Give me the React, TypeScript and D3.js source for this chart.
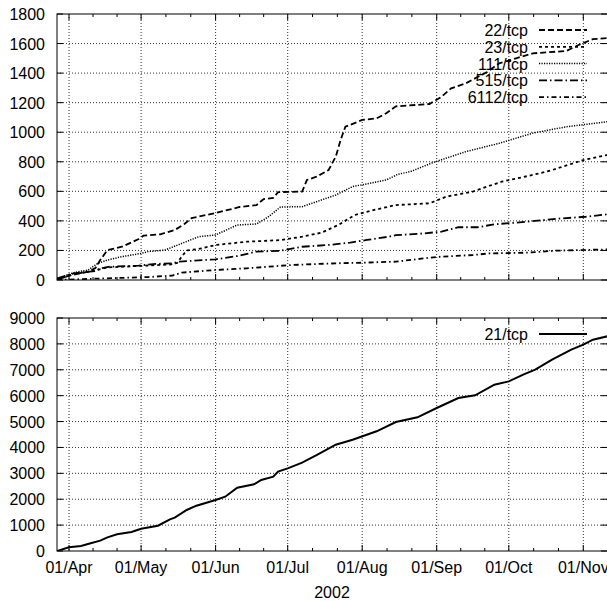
import React from 'react'
import * as d3 from 'd3'

// dates are 2002, written as MM-DD
const parseDay = d3.utcParse('%Y-%m-%d')
const day = (s: string) => parseDay('2002-' + s) as Date

// ---- upper panel ----
const tcp22Dates = ['03-27', '04-01', '04-09', '04-12', '04-14', '04-17', '04-23', '04-30', '05-02', '05-09', '05-15', '05-19', '05-22', '06-01', '06-11', '06-18', '06-21', '06-25', '06-27', '07-07', '07-09', '07-13', '07-18', '07-21', '07-23', '07-25', '08-01', '08-07', '08-11', '08-15', '08-29', '09-03', '09-07', '09-13', '09-22', '09-27', '10-04', '10-11', '10-25', '10-30', '11-05', '11-11']
const tcp22Values = [0, 30, 56, 81, 135, 203, 225, 277, 300, 309, 338, 379, 419, 453, 494, 507, 548, 555, 595, 598, 677, 699, 744, 834, 947, 1037, 1083, 1094, 1128, 1175, 1191, 1240, 1297, 1330, 1408, 1466, 1500, 1534, 1550, 1590, 1630, 1637]

const tcp23Dates = ['03-27', '04-03', '04-12', '04-17', '04-30', '05-13', '05-16', '05-18', '05-20', '05-25', '06-01', '06-14', '06-28', '07-07', '07-15', '07-22', '07-29', '08-06', '08-15', '08-29', '09-05', '09-16', '09-22', '09-28', '10-11', '10-19', '11-01', '11-11']
const tcp23Values = [0, 40, 65, 85, 95, 105, 115, 160, 200, 210, 237, 259, 270, 293, 320, 372, 440, 474, 507, 519, 564, 598, 632, 665, 711, 744, 812, 846]

const tcp111Dates = ['03-27', '04-03', '04-09', '04-13', '04-17', '04-23', '05-01', '05-04', '05-11', '05-18', '05-25', '06-01', '06-10', '06-18', '06-23', '06-28', '07-07', '07-13', '07-21', '07-28', '08-04', '08-11', '08-16', '08-21', '08-30', '09-13', '09-27', '10-11', '10-25', '11-11']
const tcp111Values = [10, 50, 68, 113, 135, 158, 180, 192, 203, 248, 293, 305, 372, 379, 428, 494, 496, 530, 575, 632, 654, 677, 716, 733, 792, 868, 925, 994, 1037, 1071]

const tcp515Dates = ['03-27', '04-03', '04-12', '04-14', '04-18', '04-30', '05-06', '05-14', '05-17', '05-20', '06-01', '06-10', '06-18', '06-28', '07-07', '07-18', '07-27', '08-03', '08-12', '08-15', '08-27', '09-03', '09-10', '09-18', '09-25', '10-04', '10-16', '10-23', '11-02', '11-11']
const tcp515Values = [10, 45, 61, 79, 90, 97, 108, 113, 125, 128, 140, 162, 192, 198, 225, 237, 253, 271, 293, 303, 316, 327, 357, 357, 377, 388, 406, 417, 428, 444]

const tcp6112Dates = ['03-27', '04-14', '05-04', '05-14', '05-18', '06-01', '06-14', '06-23', '07-02', '07-13', '07-21', '08-01', '08-15', '08-27', '09-03', '09-16', '09-23', '10-09', '10-20', '11-11']
const tcp6112Values = [0, 10, 20, 30, 50, 68, 79, 90, 101, 108, 113, 117, 124, 147, 158, 169, 180, 185, 198, 207]

// ---- lower panel ----
const tcp21Dates = ['03-27', '04-01', '04-06', '04-10', '04-14', '04-17', '04-21', '04-27', '05-01', '05-08', '05-13', '05-15', '05-20', '05-24', '06-01', '06-05', '06-10', '06-17', '06-20', '06-25', '06-27', '07-01', '07-07', '07-13', '07-21', '07-28', '08-07', '08-15', '08-24', '09-01', '09-10', '09-17', '09-25', '10-01', '10-07', '10-12', '10-19', '10-27', '11-01', '11-05', '11-11']
const tcp21Values = [0, 142, 193, 296, 399, 528, 644, 734, 862, 978, 1224, 1288, 1584, 1751, 1970, 2098, 2446, 2575, 2743, 2871, 3064, 3193, 3412, 3700, 4107, 4300, 4623, 4983, 5165, 5524, 5910, 6013, 6425, 6553, 6811, 7004, 7390, 7776, 7970, 8163, 8293]

const topTicks = [0, 200, 400, 600, 800, 1000, 1200, 1400, 1600, 1800]
const bottomTicks = [0, 1000, 2000, 3000, 4000, 5000, 6000, 7000, 8000, 9000]
const monthLabels = ['01/Apr', '01/May', '01/Jun', '01/Jul', '01/Aug', '01/Sep', '01/Oct', '01/Nov']
const monthStarts = ['04-01', '05-01', '06-01', '07-01', '08-01', '09-01', '10-01', '11-01']

const topSeries = [
  { name: '22/tcp', dates: tcp22Dates, values: tcp22Values, dash: '6,3', width: 1.8 },
  { name: '23/tcp', dates: tcp23Dates, values: tcp23Values, dash: '3,3', width: 1.8 },
  { name: '111/tcp', dates: tcp111Dates, values: tcp111Values, dash: '1.2,1.3', width: 1.5 },
  { name: '515/tcp', dates: tcp515Dates, values: tcp515Values, dash: '8,3,1.5,3', width: 1.8 },
  { name: '6112/tcp', dates: tcp6112Dates, values: tcp6112Values, dash: '5,3,1.5,3', width: 1.8 },
]

const W = 607
const H = 601
const left = 57
const right = 607
const font = '"Liberation Sans", Arial, Helvetica, sans-serif'

const x = d3.scaleUtc().domain([day('04-01'), day('11-01')]).range([69, 583.3])

function Panel(props: {
  top: number; bottom: number; max: number; ticks: number[]
  series: { name: string; dates: string[]; values: number[]; dash: string; width: number }[]
  id: string; legendY: number; xLabels: boolean
}) {
  const { top, bottom, max, ticks, series, id, legendY } = props
  const y = d3.scaleLinear().domain([0, max]).range([bottom, top])
  const months = monthStarts.map(day)
  const minor: Date[] = []
  for (let i = 0; i < months.length - 1; i++) {
    const a = +months[i], b = +months[i + 1]
    minor.push(new Date(a + (b - a) / 3), new Date(a + 2 * (b - a) / 3))
  }
  const line = d3.line<[Date, number]>().x(d => x(d[0])).y(d => y(d[1]))
  return (
    <g>
      <defs>
        <clipPath id={id}>
          <rect x={left} y={top} width={right - left} height={bottom - top} />
        </clipPath>
      </defs>
      {/* grid */}
      {ticks.slice(1, -1).map(t => (
        <line key={'gy' + t} x1={left} x2={right} y1={y(t)} y2={y(t)} stroke="#333" strokeWidth={1} strokeDasharray="1,2" />
      ))}
      {months.map((m, i) => (
        <line key={'gx' + i} x1={x(m)} x2={x(m)} y1={top} y2={bottom} stroke="#333" strokeWidth={1} strokeDasharray="1,2" />
      ))}
      {/* ticks */}
      {ticks.map(t => (
        <g key={'ty' + t}>
          <line x1={left} x2={left + 6} y1={y(t)} y2={y(t)} stroke="#000" />
          <line x1={right} x2={right - 6} y1={y(t)} y2={y(t)} stroke="#000" />
          <text x={45} y={y(t) + 6} textAnchor="end" fontSize={16} fontFamily={font}>{t}</text>
        </g>
      ))}
      {months.map((m, i) => (
        <g key={'tx' + i}>
          <line x1={x(m)} x2={x(m)} y1={bottom} y2={bottom - 6} stroke="#000" />
          <line x1={x(m)} x2={x(m)} y1={top} y2={top + 6} stroke="#000" />
          {props.xLabels && (
            <text x={x(m)} y={bottom + 22} textAnchor="middle" fontSize={16} fontFamily={font}>{monthLabels[i]}</text>
          )}
        </g>
      ))}
      {minor.map((m, i) => (
        <g key={'mx' + i}>
          <line x1={x(m)} x2={x(m)} y1={bottom} y2={bottom - 3} stroke="#000" />
          <line x1={x(m)} x2={x(m)} y1={top} y2={top + 3} stroke="#000" />
        </g>
      ))}
      {/* data */}
      <g clipPath={`url(#${id})`}>
        {series.map(s => (
          <path key={s.name}
            d={line(s.dates.map((d, i) => [day(d), s.values[i]] as [Date, number])) || ''}
            fill="none" stroke="#000" strokeWidth={s.width} strokeDasharray={s.dash === 'none' ? undefined : s.dash} />
        ))}
      </g>
      {/* legend */}
      {series.map((s, i) => (
        <g key={'lg' + s.name}>
          <text x={528} y={legendY + i * 16.8 + 6} textAnchor="end" fontSize={16} fontFamily={font}>{s.name}</text>
          <line x1={539} x2={587} y1={legendY + i * 16.8} y2={legendY + i * 16.8} stroke="#000" strokeWidth={s.width} strokeDasharray={s.dash === 'none' ? undefined : s.dash} />
        </g>
      ))}
      <rect x={left} y={top} width={right + 1 - left} height={bottom - top} fill="none" stroke="#000" strokeWidth={1} />
    </g>
  )
}

export default function App() {
  return (
    <svg width={W} height={H} style={{ position: 'absolute', left: 0, top: 0, background: '#fff' }}>
      <rect x={0} y={0} width={W} height={H} fill="#fff" />
      <Panel top={14} bottom={280} max={1800} ticks={topTicks} series={topSeries} id="clipTop" legendY={30} xLabels={false} />
      <Panel top={318} bottom={551} max={9000} ticks={bottomTicks} id="clipBottom" legendY={334} xLabels={true}
        series={[{ name: '21/tcp', dates: tcp21Dates, values: tcp21Values, dash: 'none', width: 2 }]} />
      <text x={(left + right) / 2} y={598} textAnchor="middle" fontSize={16} fontFamily={font}>2002</text>
    </svg>
  )
}
